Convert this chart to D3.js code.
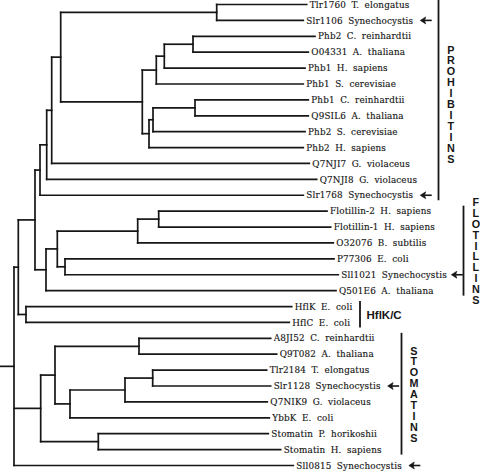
<!DOCTYPE html>
<html><head><meta charset="utf-8">
<script src="https://cdn.jsdelivr.net/npm/d3@7"></script>
<style>
html,body{margin:0;padding:0;background:#fff;}
svg{display:block;}
</style></head>
<body><svg id="c" width="480" height="471"></svg>
<script>
// ---- DATA ----
// leaf labels, top to bottom
const leafNames = [
  "Tlr1760 T. elongatus","Slr1106 Synechocystis","Phb2 C. reinhardtii","O04331 A. thaliana",
  "Phb1 H. sapiens","Phb1 S. cerevisiae","Phb1 C. reinhardtii","Q9SIL6 A. thaliana",
  "Phb2 S. cerevisiae","Phb2 H. sapiens","Q7NJI7 G. violaceus","Q7NJI8 G. violaceus",
  "Slr1768 Synechocystis","Flotillin-2 H. sapiens","Flotillin-1 H. sapiens","O32076 B. subtilis",
  "P77306 E. coli","Sll1021 Synechocystis","Q501E6 A. thaliana","HflK E. coli","HflC E. coli",
  "A8JI52 C. reinhardtii","Q9T082 A. thaliana","Tlr2184 T. elongatus","Slr1128 Synechocystis",
  "Q7NIK9 G. violaceus","YbbK E. coli","Stomatin P. horikoshii","Stomatin H. sapiens",
  "Sll0815 Synechocystis"
];
// cumulative distance from root at each leaf tip
const leafDepth = [292.7,289.3,301,294.3,291,289.3,294.3,294.3,291,289.3,295.3,302.7,
  289.3,313,316.7,319.3,320,324.3,322,277.7,275.3,256.7,262.7,252.7,256.7,253.3,255.3,
  254.3,266.7,279.3];
// internal nodes: id, cumulative distance, children ("Ln" = leaf n, others = node ids)
const nodeIds = ["R","U","HFL","PF","P0","P1","P2","A","CY","B","C","C1","C2","D","D1","D2",
  "FL","F1","F2","F4","F3","ST","S1","S2","S3","S4","S6","S5"];
const nodeDepth = [0,4.3,12,21,26,32.7,37.7,46.7,202.7,128.3,142.3,150.3,179,135,139,181,
  32,43.3,123.7,144.7,51,26.7,41,125,56,111,138.7,84.3];
const nodeChildren = [
  ["U","ST","L29"],["PF","HFL"],["L19","L20"],["P0","FL"],["P1","L12"],["P2","L11"],
  ["A","L10"],["CY","B"],["L0","L1"],["C","D"],["C1","L5"],["C2","L4"],["L2","L3"],
  ["D1","L9"],["D2","L8"],["L6","L7"],["F1","L18"],["F2","F3"],["F4","L15"],["L13","L14"],
  ["L16","L17"],["S1","S5"],["S2","S3"],["L21","L22"],["S4","L26"],["S6","L25"],
  ["L23","L24"],["L27","L28"]
];
// leaves flagged with an arrow (Synechocystis genes)
const arrowLeaves = [1,12,17,24,29];
// protein families: label, first leaf, last leaf
const groupNames = ["PROHIBITINS","FLOTILLINS","HflK/C","STOMATINS"];
const groupFirst = [0,13,19,21];
const groupLast  = [12,18,20,28];

// ---- LAYOUT ----
const svg = d3.select("#c");
const x = d3.scaleLinear().domain([0,330]).range([14,344]);
const y = d3.scalePoint().domain(d3.range(leafNames.length)).range([4.5,465.5]);
const ink = "#161616";

const nodeMap = {};
nodeIds.forEach((id,i)=>nodeMap[id]={id,depth:nodeDepth[i],kids:nodeChildren[i]});
function info(ref){
  if(ref[0]==="L"){const i=+ref.slice(1);return {depth:leafDepth[i],y:y(i),leaf:true};}
  const n=nodeMap[ref];
  if(n.y===undefined){
    const ks=n.kids.map(info);
    n.y=(ks[0].y+ks[ks.length-1].y)/2; n.ks=ks;
  }
  return n;
}
const root = info("R");
const g = svg.append("g").attr("fill","none").attr("stroke",ink).attr("stroke-width",1.7)
  .attr("stroke-linecap","square");
g.append("line").attr("x1",0).attr("x2",x(0)).attr("y1",root.y).attr("y2",root.y);
nodeIds.forEach(id=>{
  const n=nodeMap[id];
  const ys=n.ks.map(k=>k.y);
  g.append("line").attr("x1",x(n.depth)).attr("x2",x(n.depth))
    .attr("y1",d3.min(ys)).attr("y2",d3.max(ys));
  n.ks.forEach(k=>{
    g.append("line").attr("x1",x(n.depth)).attr("x2",x(k.depth)).attr("y1",k.y).attr("y2",k.y);
  });
});

// leaf labels
const labels = svg.append("g").attr("font-family","'DejaVu Serif', serif").attr("font-size",8.8)
  .attr("fill",ink).attr("stroke",ink).attr("stroke-width",0.15);
const textEnds=[];
leafNames.forEach((name,i)=>{
  const t=labels.append("text").attr("x",x(leafDepth[i])+3).attr("y",y(i)).attr("dy","0.36em")
    .attr("letter-spacing",0.15).attr("word-spacing",2.5).text(name);
  textEnds[i]=x(leafDepth[i])+3+t.node().getComputedTextLength();
});

// arrows
arrowLeaves.forEach(i=>{
  const ax=textEnds[i]+(i===17?4.5:7), ay=y(i);
  svg.append("path").attr("d",`M${ax},${ay}l5.5,-3.5l-1.2,3.5l1.2,3.5z`).attr("fill",ink).attr("stroke",ink).attr("stroke-width",0.6);
  svg.append("line").attr("x1",ax+4).attr("x2",ax+11.5).attr("y1",ay).attr("y2",ay)
    .attr("stroke",ink).attr("stroke-width",1.6);
});

// group bars and labels
const barX = [438.5,463.5,360,401.5];
groupNames.forEach((name,gi)=>{
  const y0=y(groupFirst[gi])-4.5, y1=y(groupLast[gi])+5;
  svg.append("line").attr("x1",barX[gi]).attr("x2",barX[gi]).attr("y1",Math.max(0,y0-1)).attr("y2",y1)
    .attr("stroke",ink).attr("stroke-width",1.8);
  const tg=svg.append("g").attr("font-family","'Liberation Sans', Arial, sans-serif")
    .attr("font-weight","bold").attr("fill",ink);
  if(name==="HflK/C"){
    tg.append("text").attr("x",barX[gi]+6.5).attr("y",(y0+y1)/2+4)
      .attr("font-family","'Liberation Sans Narrow', 'Liberation Sans', sans-serif")
      .attr("font-size",11.5).text(name);
  } else {
    const letters=name.split(""), step=10.9, mid=(y0+y1)/2 + (gi===0?4:0);
    letters.forEach((ch,k)=>{
      tg.append("text").attr("x",barX[gi]+12.4).attr("y",mid+(k-(letters.length-1)/2)*step)
        .attr("dy","0.36em").attr("text-anchor","middle").attr("font-size",10.8).text(ch);
    });
  }
});
</script></body></html>
